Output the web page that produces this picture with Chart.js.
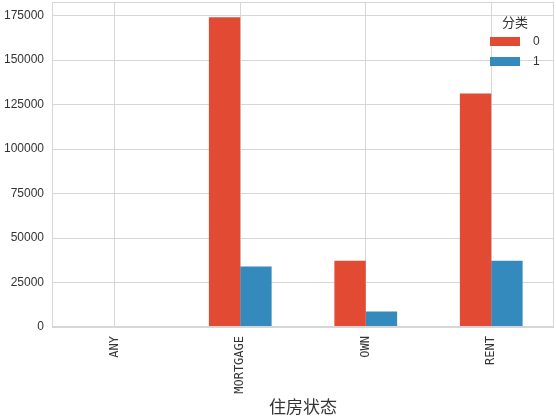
<!DOCTYPE html>
<html>
<head>
<meta charset="utf-8">
<script src="https://cdn.jsdelivr.net/npm/chart.js@4"></script>
<style>
  html, body { margin: 0; padding: 0; background: #fff; }
  #wrap { width: 556px; height: 419px; }
</style>
</head>
<body>
<div id="wrap"><canvas id="housingChart"></canvas></div>
<script>
const categories = ["ANY", "MORTGAGE", "OWN", "RENT"];
const seriesNames = ["0", "1"];
const class0 = [1, 174000, 37250, 131200];
const class1 = [0, 34000, 8770, 37250];
const yTicks = [0, 25000, 50000, 75000, 100000, 125000, 150000, 175000];

const gridColor = "#d6d6d6";

// box around the plot area + legend drawn inside the top-right corner
const frameAndLegend = {
  id: "frameAndLegend",
  afterDraw(chart) {
    const { ctx, chartArea: a } = chart;
    ctx.save();
    ctx.strokeStyle = gridColor;
    ctx.lineWidth = 1;
    ctx.strokeRect(a.left + 0.5, a.top + 0.5, a.right - a.left - 1, a.bottom - a.top - 1);

    const x0 = a.right - 64;
    ctx.fillStyle = "#333";
    ctx.font = "13px 'Noto Sans CJK SC'";
    ctx.textAlign = "center";
    ctx.textBaseline = "middle";
    ctx.fillText("分类", x0 + 25, 22);
    chart.data.datasets.forEach((ds, i) => {
      const y = 37 + i * 20;
      ctx.fillStyle = ds.backgroundColor;
      ctx.fillRect(x0, y, 30, 9);
      ctx.fillStyle = "#333";
      ctx.font = "12px 'Liberation Sans'";
      ctx.textAlign = "left";
      ctx.fillText(ds.label, x0 + 43, y + 5);
    });
    ctx.restore();
  }
};

new Chart(document.getElementById("housingChart").getContext("2d"), {
  type: "bar",
  data: {
    labels: categories,
    datasets: [
      { label: seriesNames[0], data: class0, backgroundColor: "#E24A33" },
      { label: seriesNames[1], data: class1, backgroundColor: "#348ABD" }
    ]
  },
  options: {
    responsive: true,
    maintainAspectRatio: false,
    animation: false,
    categoryPercentage: 0.5,
    barPercentage: 1.0,
    layout: { padding: { top: 2, right: 2, left: 0, bottom: 0 } },
    plugins: {
      legend: { display: false },
      tooltip: { enabled: false }
    },
    scales: {
      x: {
        offset: true,
        grid: { offset: false, color: gridColor, drawTicks: false },
        border: { display: false },
        ticks: {
          minRotation: 90,
          maxRotation: 90,
          padding: 9,
          color: "#333",
          font: { family: "DejaVu Sans Mono", size: 12 }
        },
        title: {
          display: true,
          text: "住房状态",
          color: "#333",
          font: { family: "Noto Sans CJK SC", size: 17 },
          padding: { top: 2, bottom: 2 }
        },
        afterFit(scale) { scale.height = 92; }
      },
      y: {
        min: 0,
        max: 182600,
        grid: { color: gridColor, drawTicks: false },
        border: { display: false },
        ticks: {
          stepSize: 25000,
          includeBounds: false,
          padding: 8,
          color: "#333",
          font: { family: "Liberation Sans", size: 12 },
          callback: v => String(v)
        },
        afterBuildTicks(scale) {
          scale.ticks = yTicks.map(v => ({ value: v }));
        },
        afterFit(scale) {
          scale.width = 52;
          scale.paddingTop = 0;
          scale.paddingBottom = 0;
        }
      }
    }
  },
  plugins: [frameAndLegend]
});
</script>
</body>
</html>
